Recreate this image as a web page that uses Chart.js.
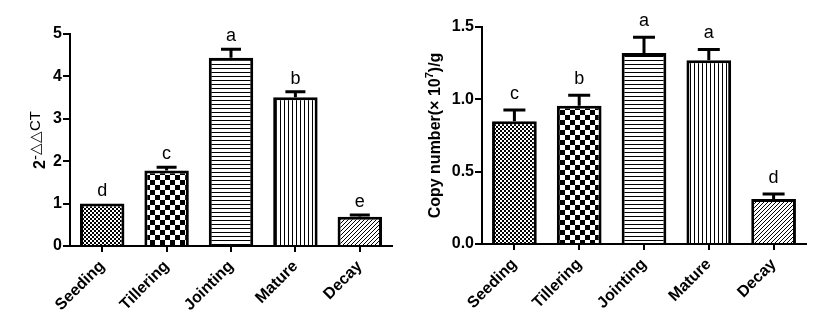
<!DOCTYPE html>
<html>
<head>
<meta charset="utf-8">
<script src="https://cdn.jsdelivr.net/npm/chart.js@4.4.1/dist/chart.umd.min.js"></script>
<style>
  body { margin: 0; background: #fff; }
  #wrap { position: relative; width: 818px; height: 329px; }
  canvas { position: absolute; top: 0; }
  #relChart { left: 0; }
  #copyChart { left: 410px; }
</style>
</head>
<body>
<div id="wrap">
  <canvas id="relChart" width="410" height="329"></canvas>
  <canvas id="copyChart" width="408" height="329"></canvas>
</div>
<script>
// growth stages
var stages = ['Seeding', 'Tillering', 'Jointing', 'Mature', 'Decay'];

// relative expression (2^-ddCT), SD and significance letters
var relExpr = [1.0, 1.78, 4.44, 3.51, 0.69];
var relErr = [0, 0.08, 0.20, 0.13, 0.04];
var relLetters = ['d', 'c', 'a', 'b', 'e'];
var relTicks = [0, 1, 2, 3, 4, 5];

// copy number (x 10^7 / g), SD and significance letters
var copyNum = [0.848, 0.956, 1.32, 1.27, 0.311];
var copyErr = [0.078, 0.072, 0.11, 0.075, 0.035];
var copyLetters = ['c', 'b', 'a', 'a', 'd'];
var copyTicks = [0, 0.5, 1.0, 1.5];

var FONT = '"Liberation Sans", Arial, sans-serif';

// small tiles used as bar fills
function makeTile(w, h, draw) {
    var c = document.createElement('canvas');
    c.width = w;
    c.height = h;
    var ctx = c.getContext('2d');
    ctx.fillStyle = '#fff';
    ctx.fillRect(0, 0, w, h);
    ctx.fillStyle = '#000';
    ctx.strokeStyle = '#000';
    draw(ctx);
    return c;
}

function makePatterns(ctx) {
    var fineCheck = makeTile(4, 4, function(t){
        t.fillRect(0, 0, 2, 2);
        t.fillRect(2, 2, 2, 2);
    });
    var bigCheck = makeTile(10, 10, function(t){
        t.fillRect(0, 0, 5, 5);
        t.fillRect(5, 5, 5, 5);
    });
    var horiz = makeTile(4, 4, function(t){
        t.fillRect(0, 0, 4, 1);
    });
    var vert = makeTile(4, 4, function(t){
        t.fillRect(0, 0, 1, 4);
    });
    var diag = makeTile(4, 4, function(t){
        t.lineWidth = 1;
        t.beginPath();
        t.moveTo(-1, 5); t.lineTo(5, -1);
        t.stroke();
    });
    return [fineCheck, bigCheck, horiz, vert, diag].map(function(tile){
        return ctx.createPattern(tile, 'repeat');
    });
}

// SD bars (upper only) plus the letters above them
var errorBarPlugin = {
    id: 'errorBars',
    afterDatasetsDraw: function(chart, args, opts) {
        var ctx = chart.ctx;
        var y = chart.scales.y;
        var meta = chart.getDatasetMeta(0);
        var vals = chart.data.datasets[0].data;
        ctx.save();
        ctx.strokeStyle = '#000';
        ctx.lineWidth = 3;
        meta.data.forEach(function(bar, i){
            var top = y.getPixelForValue(vals[i] + opts.err[i]);
            var base = y.getPixelForValue(vals[i]);
            if (opts.err[i] > 0) {
                ctx.beginPath();
                ctx.moveTo(bar.x, base);
                ctx.lineTo(bar.x, top);
                ctx.moveTo(bar.x - opts.cap / 2, top);
                ctx.lineTo(bar.x + opts.cap / 2, top);
                ctx.stroke();
            }
            ctx.fillStyle = '#000';
            ctx.font = '18px ' + FONT;
            ctx.textAlign = 'center';
            ctx.textBaseline = 'alphabetic';
            ctx.fillText(opts.letters[i], bar.x, top - opts.gap);
        });
        ctx.restore();
    }
};

// y axis title with a superscript part, drawn rotated
var yTitlePlugin = {
    id: 'yTitle',
    afterDraw: function(chart, args, opts) {
        var ctx = chart.ctx;
        var area = chart.chartArea;
        var parts = opts.parts;
        ctx.save();
        var total = 0;
        parts.forEach(function(p){
            ctx.font = p.font;
            p.w = ctx.measureText(p.text).width;
            total += p.w;
        });
        ctx.translate(opts.x, (area.top + area.bottom) / 2);
        ctx.rotate(-Math.PI / 2);
        ctx.fillStyle = '#000';
        ctx.textBaseline = 'middle';
        ctx.textAlign = 'left';
        var pos = -total / 2;
        parts.forEach(function(p){
            ctx.font = p.font;
            ctx.fillText(p.text, pos, p.dy || 0);
            pos += p.w;
        });
        ctx.restore();
    }
};

function barChart(id, values, opts) {
    var canvas = document.getElementById(id);
    var ctx = canvas.getContext('2d');
    return new Chart(ctx, {
        type: 'bar',
        data: {
            labels: stages,
            datasets: [{
                data: values,
                backgroundColor: makePatterns(ctx),
                borderColor: '#000',
                borderWidth: 3,
                borderSkipped: 'start',
                barPercentage: 0.69,
                categoryPercentage: 1.0
            }]
        },
        options: {
            responsive: false,
            animation: false,
            events: [],
            layout: { padding: opts.padding },
            plugins: {
                legend: { display: false },
                tooltip: { enabled: false },
                errorBars: { err: opts.err, letters: opts.letters, cap: opts.cap, gap: opts.gap },
                yTitle: { x: opts.titleX, parts: opts.title }
            },
            scales: {
                x: {
                    afterFit: function(s){ s.height = opts.xHeight; },
                    border: { color: '#000', width: 2, z: 1 },
                    grid: {
                        offset: false,
                        drawOnChartArea: false,
                        color: '#000',
                        lineWidth: 2,
                        tickLength: 6
                    },
                    ticks: {
                        color: '#000',
                        font: { family: FONT, size: 16, weight: 'bold' },
                        minRotation: 45,
                        maxRotation: 45,
                        padding: 5
                    }
                },
                y: {
                    min: 0,
                    max: opts.ticks[opts.ticks.length - 1],
                    afterFit: function(s){ s.width = opts.yWidth; },
                    afterBuildTicks: function(s){
                        s.ticks = opts.ticks.map(function(v){ return { value: v }; });
                    },
                    border: { color: '#000', width: 2 },
                    grid: {
                        drawOnChartArea: false,
                        color: '#000',
                        lineWidth: 2,
                        tickLength: 7
                    },
                    ticks: {
                        color: '#000',
                        font: { family: FONT, size: 16, weight: 'bold' },
                        padding: 1,
                        callback: opts.fmt
                    }
                }
            }
        },
        plugins: [errorBarPlugin, yTitlePlugin]
    });
}

barChart('relChart', relExpr, {
    padding: { left: 0, right: 18, top: 34, bottom: 0 },
    xHeight: 83,
    yWidth: 70,
    ticks: relTicks,
    err: relErr,
    letters: relLetters,
    cap: 20,
    gap: 8,
    titleX: 41,
    fmt: function(v){ return String(v); },
    title: [
        { text: '2', font: 'bold 16px ' + FONT },
        { text: '-△△CT', font: '15px ' + FONT, dy: -5 }
    ]
});

barChart('copyChart', copyNum, {
    padding: { left: 0, right: 12, top: 27, bottom: 0 },
    xHeight: 85,
    yWidth: 72,
    ticks: copyTicks,
    err: copyErr,
    letters: copyLetters,
    cap: 22,
    gap: 11,
    titleX: 26,
    fmt: function(v){ return v.toFixed(1); },
    title: [
        { text: 'Copy number(× 10', font: 'bold 16px ' + FONT },
        { text: '7', font: 'bold 11px ' + FONT, dy: -6 },
        { text: ')/g', font: 'bold 16px ' + FONT }
    ]
});
</script>
</body>
</html>
